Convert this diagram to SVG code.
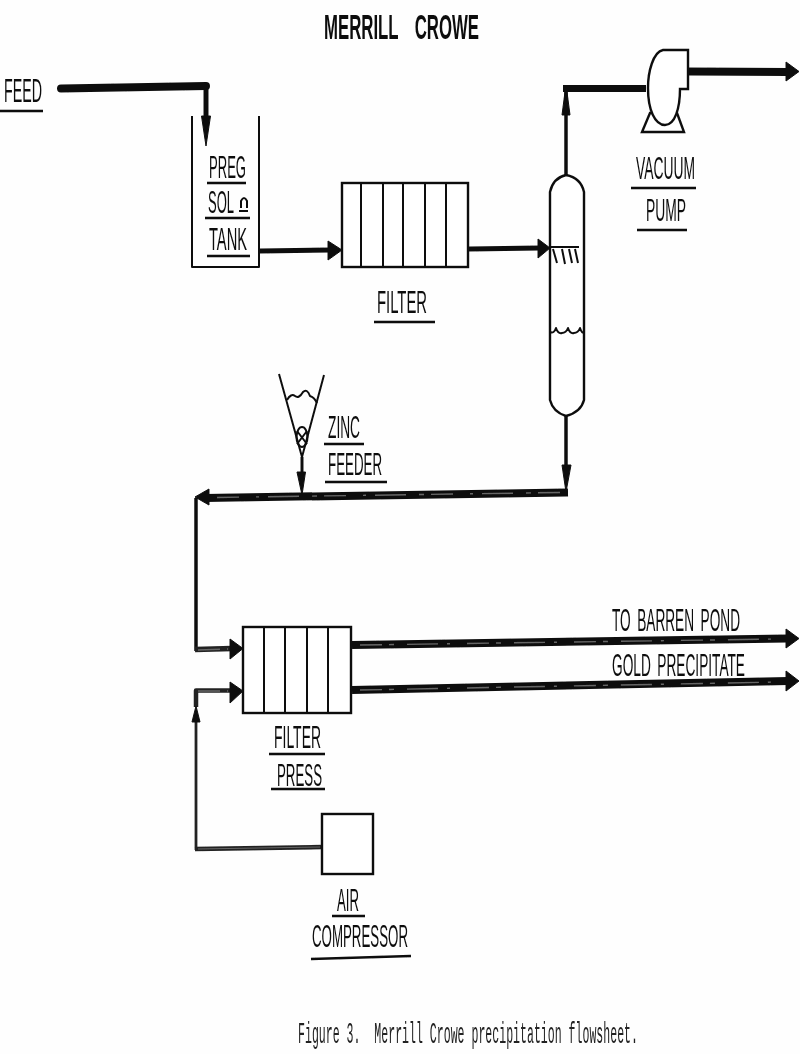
<svg xmlns="http://www.w3.org/2000/svg" width="800" height="1054" viewBox="0 0 800 1054">
<style>
.s{fill:none;stroke:#111;stroke-width:2;stroke-linejoin:round}
.b{fill:#fff;stroke:#111;stroke-width:2.4}
.t{font-family:"Liberation Sans",Arial,sans-serif;font-size:15px;fill:#111;white-space:pre}
.u{stroke:#111;stroke-width:2.6;fill:none}
.h{fill:#111;stroke:#111;stroke-width:1;stroke-linejoin:round}
.p{fill:none;stroke:#111;stroke-linejoin:round}
.g{fill:none;stroke:#222;stroke-linejoin:round}
.m{fill:none;stroke:#666;stroke-width:1.4;stroke-dasharray:22 7 5 13 31 9 3 17}
</style>
<defs>
<filter id="scan" x="-5%" y="-5%" width="110%" height="110%"><feGaussianBlur stdDeviation="0.5"/></filter>
</defs>
<rect width="800" height="1054" fill="#fefefe"/>
<g filter="url(#scan)">
<g id="connectors">
<path class="p" stroke-width="8" stroke-linecap="round" d="M61 88.500L206 86"/>
<path class="p" stroke-width="5" d="M206 83V122"/>
<path class="h" d="M201.500 116H210.500L206 146Z"/>
<path class="p" stroke-width="5" d="M260 251L332 250"/>
<path class="h" d="M328 241L342 250L328 260Z"/>
<path class="p" stroke-width="5" d="M469 249L540 248"/>
<path class="h" d="M538 239L550 248L538 258Z"/>
<path class="p" stroke-width="3.500" d="M566 175V90"/>
<path class="h" d="M562 115L565 92H567L570 115Z"/>
<path class="p" stroke-width="7" d="M563 88.500H646"/>
<path class="p" stroke-width="8" d="M688 71.500L788 72"/>
<path class="h" d="M786 62L799 71.500L786 81Z"/>
<path class="p" stroke-width="3.500" d="M566 416V470"/>
<path class="h" d="M562 465H571L566 492Z"/>
<path class="p" stroke-width="8" d="M568 492.500L205 498"/>
<path class="m" d="M560 492.500L215 497.500"/>
<path class="h" d="M209 489L195 497L209 505Z"/>
<path class="p" stroke-width="3" d="M302 457V475"/>
<path class="h" d="M297 472H305.500L302 495Z"/>
<path class="p" stroke-width="3.500" d="M196 498V651"/>
<path class="g" stroke-width="5.500" d="M195 649.500L232 648.500"/>
<path class="m" d="M198 650L228 649"/>
<path class="h" d="M230 639L243 648.500L230 659Z"/>
<path class="g" stroke-width="4.500" d="M196 707V690.500H232"/>
<path class="m" d="M198 691H228"/>
<path class="h" d="M230 682L243 691L230 703Z"/>
<path class="g" stroke-width="2.800" d="M196 722V850"/>
<path class="h" d="M192 722L196 706L200 722Z"/>
<path class="g" stroke-width="4.500" d="M195 849L322 847"/>
<path class="m" style="stroke-dasharray:none;stroke-width:1" d="M198 849L320 847"/>
<path class="p" stroke-width="8" d="M352 645L788 638.500"/>
<path class="m" d="M360 645L780 639"/>
<path class="h" d="M786 629L799 638.500L786 648Z"/>
<path class="p" stroke-width="8" d="M352 690L788 681"/>
<path class="m" d="M360 690L780 682"/>
<path class="h" d="M786 671L799 681L786 691Z"/>
</g>
<g id="title"><text class="t" style="font-weight:bold;word-spacing:12px;font-size:17px" transform="translate(324 39) scale(1 2.05)" textLength="155" lengthAdjust="spacingAndGlyphs">MERRILL CROWE</text></g>
<g id="feed-label">
<text class="t" transform="translate(4 101.500) scale(1 2.2)" textLength="38" lengthAdjust="spacingAndGlyphs">FEED</text>
<path class="u" d="M0 111H43"/>
</g>
<g id="preg-soln-tank">
<path class="s" d="M192 116V267H259V116"/>
<text class="t" transform="translate(209 178) scale(1 2.1)" textLength="37" lengthAdjust="spacingAndGlyphs">PREG</text>
<path class="u" d="M207 183H246"/>
<text class="t" transform="translate(208 213) scale(1 2.1)" textLength="26" lengthAdjust="spacingAndGlyphs">SOL</text>
<path class="s" stroke-width="1.600" d="M241 208V201Q244 195 247 201V208M239 211H248"/>
<path class="u" d="M205 218H250"/>
<text class="t" transform="translate(209 250) scale(1 2.1)" textLength="38" lengthAdjust="spacingAndGlyphs">TANK</text>
<path class="u" d="M207 256H250"/>
</g>
<g id="filter">
<rect class="b" x="342" y="183" width="126" height="84"/>
<path class="s" d="M361 183V267M383 183V267M403 183V267M425 183V267M446 183V267"/>
<text class="t" transform="translate(377 313) scale(1 2.1)" textLength="50" lengthAdjust="spacingAndGlyphs">FILTER</text>
<path class="u" d="M374 322H435"/>
</g>
<g id="column">
<path class="b" d="M550 192Q553 178 566 175Q581 178 584 192V400Q581 412 566 416Q553 412 550 400Z"/>
<path class="s" d="M550 247H579M553 249L557 263M562 249L565 264M569 249L572 263M575 249L578 263"/>
<path class="s" stroke-width="1.500" d="M550 332Q554 334 556 328Q558 334 562 333Q566 333 568 328Q570 334 574 333Q578 333 580 328Q582 334 584 332"/>
</g>
<g id="vacuum-pump">
<path class="b" d="M650 113L642 132H684L677 113Z"/>
<path class="b" d="M688 50H663C653 52 648 72 648 88C648 110 655 125 665 125C675 125 680 108 680 89H688Z"/>
<text class="t" transform="translate(636 179) scale(1 2.1)" textLength="59" lengthAdjust="spacingAndGlyphs">VACUUM</text>
<path class="u" d="M631 188H696"/>
<text class="t" transform="translate(646 221) scale(1 2.1)" textLength="40" lengthAdjust="spacingAndGlyphs">PUMP</text>
<path class="u" d="M637 230H687"/>
</g>
<g id="zinc-feeder">
<path class="s" d="M279 374L302 457L324 375"/>
<path class="s" d="M287 400Q291 393 295 396Q299 399 303 392Q307 388 310 396Q314 397 317 403"/>
<ellipse class="s" cx="302" cy="437" rx="5.500" ry="10"/>
<path class="s" stroke-width="1.500" d="M297 431L307 444M307 431L297 444"/>
<text class="t" transform="translate(328 438) scale(1 2.1)" textLength="32" lengthAdjust="spacingAndGlyphs">ZINC</text>
<path class="u" d="M324 444H364"/>
<text class="t" transform="translate(328 475) scale(1 2.1)" textLength="54" lengthAdjust="spacingAndGlyphs">FEEDER</text>
<path class="u" d="M325 482H387"/>
</g>
<g id="filter-press">
<rect class="b" x="243" y="627" width="108" height="86"/>
<path class="s" d="M264 627V713M285 627V713M307 627V713M328 627V713"/>
<text class="t" transform="translate(274 748) scale(1 2.1)" textLength="47" lengthAdjust="spacingAndGlyphs">FILTER</text>
<path class="u" d="M269 754H325"/>
<text class="t" transform="translate(277 786) scale(1 2.1)" textLength="45" lengthAdjust="spacingAndGlyphs">PRESS</text>
<path class="u" d="M271 789H325"/>
</g>
<g id="air-compressor">
<rect class="b" x="322" y="814" width="51" height="60"/>
<text class="t" transform="translate(337 911) scale(1 2.1)" textLength="22" lengthAdjust="spacingAndGlyphs">AIR</text>
<path class="u" d="M332 916H365"/>
<text class="t" transform="translate(312 947) scale(1 2.1)" textLength="96" lengthAdjust="spacingAndGlyphs">COMPRESSOR</text>
<path class="u" d="M311 959L411 956"/>
</g>
<g id="outlet-labels">
<text class="t" style="word-spacing:3px" transform="translate(612 631) scale(1 2.1)" textLength="128" lengthAdjust="spacingAndGlyphs">TO BARREN POND</text>
<text class="t" style="word-spacing:3px" transform="translate(612 676) scale(1 2.1)" textLength="133" lengthAdjust="spacingAndGlyphs">GOLD PRECIPITATE</text>
</g>
<g id="caption"><text transform="translate(298 1043) scale(1 2.5)" textLength="340" lengthAdjust="spacingAndGlyphs" style="font-family:'Liberation Mono','Courier New',monospace;font-size:11.500px;fill:#222;white-space:pre">Figure 3.  Merrill Crowe precipitation flowsheet.</text></g>
</g>
</svg>
